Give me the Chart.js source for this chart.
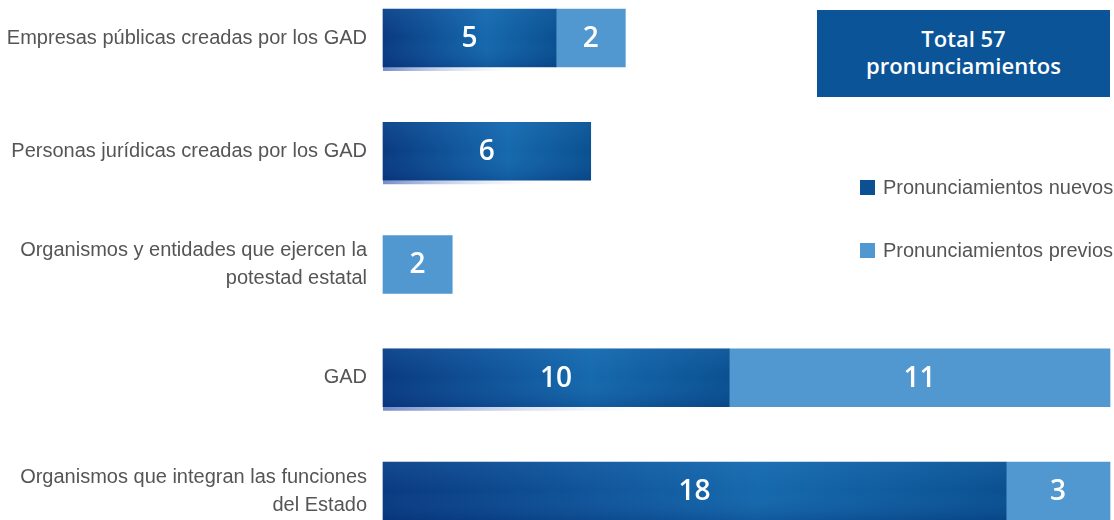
<!DOCTYPE html>
<html>
<head>
<meta charset="utf-8">
<script src="https://cdn.jsdelivr.net/npm/chart.js@4"></script>
<style>
    body { margin: 0; background: #fff; }
    #wrap { position: relative; width: 1114px; height: 520px; }
    #total {
        position: absolute; left: 817px; top: 10px; width: 293px; height: 87px;
        background: #0a5497; color: #fff; font-family: "Open Sans", sans-serif;
        font-weight: 600; font-size: 22px; line-height: 27px; text-align: center;
        display: flex; align-items: center; justify-content: center;
    }
    .leg { position: absolute; left: 860px; font-family: "Liberation Sans", Arial, sans-serif;
        font-size: 20px; color: #555; white-space: nowrap; }
    .leg span { display: inline-block; width: 15px; height: 15px; margin-right: 8px; vertical-align: -1px; }
</style>
</head>
<body>
<div id="wrap">
    <canvas id="pronChart" width="1114" height="520"></canvas>
    <div id="total"><div style="margin-top:-3px">Total 57<br>pronunciamientos</div></div>
    <div class="leg" style="top:176px"><span style="background:#0d4f93"></span>Pronunciamientos nuevos</div>
    <div class="leg" style="top:239px"><span style="background:#5197d0"></span>Pronunciamientos previos</div>
</div>
<script>
const categories = [
    'Empresas públicas creadas por los GAD',
    'Personas jurídicas creadas por los GAD',
    ['Organismos y entidades que ejercen la', 'potestad estatal'],
    'GAD',
    ['Organismos que integran las funciones', 'del Estado']
];
const nuevos = [5, 6, 0, 10, 18];
const previos = [2, 0, 2, 11, 3];
const xMax = 21;

// gradient for the dark "nuevos" segments, stretched over each bar
function darkGradient(context) {
    const chart = context.chart;
    if (!chart.chartArea || context.type !== 'data') return '#0d4f93';
    const xs = chart.scales.x;
    const x0 = xs.getPixelForValue(0);
    const x1 = xs.getPixelForValue(context.raw || 0.01);
    const g = chart.ctx.createLinearGradient(x0, 0, x1, 0);
    g.addColorStop(0, '#0a3a80');
    g.addColorStop(0.6, '#1669ad');
    g.addColorStop(1, '#0a5090');
    return g;
}

const shadowPlugin = {
    id: 'shadowStrip',
    beforeDatasetsDraw(chart) {
        const ctx = chart.ctx;
        const meta = chart.getDatasetMeta(0);
        ctx.save();
        meta.data.forEach((bar, i) => {
            if (!nuevos[i]) return;
            const w = (bar.x - bar.base) * 0.85;
            const y = bar.y + 29;
            const g = ctx.createLinearGradient(bar.base, 0, bar.base + w, 0);
            g.addColorStop(0, 'rgba(110,135,198,0.95)');
            g.addColorStop(1, 'rgba(255,255,255,0)');
            ctx.fillStyle = g;
            ctx.fillRect(bar.base, y, w, 4);
        });
        ctx.restore();
    }
};

const valuePlugin = {
    id: 'valueLabels',
    afterDatasetsDraw(chart) {
        const ctx = chart.ctx;
        ctx.save();
        // soft vertical shading on the dark bars
        chart.getDatasetMeta(0).data.forEach((bar, i) => {
            if (!nuevos[i]) return;
            const top = bar.y - 29;
            const g = ctx.createLinearGradient(0, top, 0, top + 58);
            g.addColorStop(0, 'rgba(60,140,210,0.18)');
            g.addColorStop(0.5, 'rgba(60,140,210,0)');
            g.addColorStop(1, 'rgba(0,30,100,0.22)');
            ctx.fillStyle = g;
            ctx.fillRect(bar.base, top, bar.x - bar.base, 58);
        });
        ctx.font = '600 28px "Open Sans"';
        ctx.fillStyle = '#fff';
        ctx.textAlign = 'center';
        ctx.textBaseline = 'middle';
        chart.data.datasets.forEach((ds, i) => {
            chart.getDatasetMeta(i).data.forEach((bar, j) => {
                const v = ds.data[j];
                if (!v) return;
                ctx.fillText(v, (bar.x + bar.base) / 2, bar.y + 1);
            });
        });
        ctx.restore();
    }
};

const ctx = document.getElementById('pronChart').getContext('2d');
new Chart(ctx, {
    type: 'bar',
    data: {
        labels: categories,
        datasets: [{
            label: 'Pronunciamientos nuevos',
            data: nuevos.map(v => v || null),
            backgroundColor: darkGradient,
            barThickness: 58,
            clip: false
        }, {
            label: 'Pronunciamientos previos',
            data: previos.map(v => v || null),
            backgroundColor: '#5197d0',
            barThickness: 58,
            clip: false
        }]
    },
    options: {
        indexAxis: 'y',
        responsive: false,
        animation: false,
        layout: { padding: { top: 38, bottom: 29, right: 4, left: 0 } },
        scales: {
            x: { display: false, stacked: true, min: 0, max: xMax },
            y: {
                stacked: true,
                offset: false,
                grid: { display: false, drawTicks: false },
                border: { display: false },
                ticks: {
                    padding: 16,
                    color: '#555',
                    font: { family: '"Liberation Sans", Arial, sans-serif', size: 20, lineHeight: 1.4 }
                },
                afterFit: function(scale) {
                    scale.width = 383;
                    scale.paddingTop = 0;
                    scale.paddingBottom = 0;
                }
            }
        },
        plugins: {
            legend: { display: false },
            tooltip: { enabled: false }
        }
    },
    plugins: [shadowPlugin, valuePlugin]
});
</script>
</body>
</html>
